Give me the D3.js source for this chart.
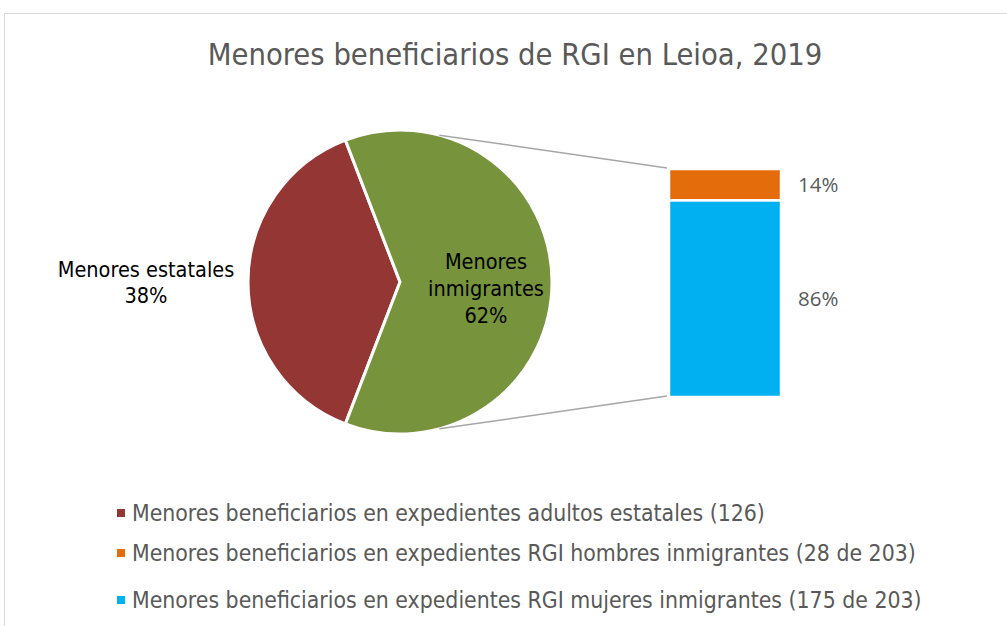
<!DOCTYPE html>
<html>
<head>
<meta charset="utf-8">
<script src="https://cdn.jsdelivr.net/npm/d3@7"></script>
<style>
  html, body { margin: 0; padding: 0; background: #fff; }
  svg { display: block; }
</style>
</head>
<body>
<div id="chart"></div>
<script>
// data
const pieCategories = ["Menores estatales", "Menores inmigrantes"];
const pieValues = [126, 203];
const barCategories = ["hombres", "mujeres"];
const barValues = [28, 175];
const legendLabels = [
  "Menores beneficiarios en expedientes adultos estatales (126)",
  "Menores beneficiarios en expedientes RGI hombres inmigrantes (28 de 203)",
  "Menores beneficiarios en expedientes RGI mujeres inmigrantes (175 de 203)"
];
const title = "Menores beneficiarios de RGI en Leioa, 2019";

const width = 1007, height = 626;
const pieColors = ["#943634", "#77933c"];
const barColors = ["#e46c0a", "#00b0f0"];
const legendColors = [pieColors[0], barColors[0], barColors[1]];
const textGray = "#595959";
const narrow = "'DejaVu Sans Condensed', sans-serif";

const svg = d3.select("#chart").append("svg")
    .attr("width", width)
    .attr("height", height);

// chart frame
svg.append("rect")
    .attr("x", 4.5).attr("y", 13.5)
    .attr("width", width + 10).attr("height", height + 10)
    .attr("fill", "#fff")
    .attr("stroke", "#d9d9d9");

svg.append("text")
    .attr("x", 515).attr("y", 65)
    .attr("text-anchor", "middle")
    .style("font", `30.6px ${narrow}`)
    .attr("fill", textGray)
    .text(title);

// pie
const cx = 400, cy = 282, r = 152;
const total = d3.sum(pieValues);
const a0 = Math.PI * 1.5 - (pieValues[0] / total) * Math.PI;
const pie = d3.pie().sort(null).startAngle(a0).endAngle(a0 + 2 * Math.PI);
const arcs = pie(pieValues);
const arc = d3.arc().innerRadius(0).outerRadius(r);

const gPie = svg.append("g").attr("transform", `translate(${cx},${cy})`);
gPie.selectAll("path")
  .data(arcs)
  .join("path")
    .attr("d", arc)
    .attr("fill", (d, i) => pieColors[i])
    .attr("stroke", "#fff")
    .attr("stroke-width", 3);

// bar (stacked)
const barX = 669, barW = 112;
const y = d3.scaleLinear()
    .domain([0, d3.sum(barValues)])
    .range([169, 397]);
const stack = [];
let acc = 0;
barValues.forEach((v, i) => { stack.push({ v, y0: acc, y1: acc + v, i }); acc += v; });

svg.append("g").selectAll("rect")
  .data(stack)
  .join("rect")
    .attr("x", barX)
    .attr("y", d => y(d.y0))
    .attr("width", barW)
    .attr("height", d => y(d.y1) - y(d.y0))
    .attr("fill", d => barColors[d.i])
    .attr("stroke", "#fff")
    .attr("stroke-width", 2.5);

const barTotal = d3.sum(barValues);
svg.append("g").selectAll("text")
  .data(stack)
  .join("text")
    .attr("x", 798)
    .attr("y", d => (y(d.y0) + y(d.y1)) / 2 + 7)
    .style("font", "20.5px 'Open Sans', sans-serif")
    .attr("fill", textGray)
    .text(d => Math.round(d.v / barTotal * 100) + "%");

// connector lines
const ta = 15 * Math.PI / 180;
svg.append("g")
    .attr("stroke", "#a6a6a6")
    .attr("stroke-width", 1.5)
  .selectAll("line")
  .data([[-1, y(0) - 1], [1, y(barTotal) - 1]])
  .join("line")
    .attr("x1", d => cx + r * Math.sin(ta))
    .attr("y1", d => cy + d[0] * r * Math.cos(ta))
    .attr("x2", barX - 2)
    .attr("y2", d => d[1]);

// pie labels
const pct = v => Math.round(v / total * 100) + "%";
const pieLabelFont = "21.5px 'DejaVu Sans Condensed', sans-serif";
svg.append("text")
    .attr("text-anchor", "middle")
    .style("font", pieLabelFont)
    .attr("fill", "#000")
  .selectAll("tspan")
  .data([pieCategories[0], pct(pieValues[0])])
  .join("tspan")
    .attr("x", 146)
    .attr("y", (d, i) => 277 + i * 26)
    .text(d => d);

svg.append("text")
    .attr("text-anchor", "middle")
    .style("font", pieLabelFont)
    .attr("fill", "#000")
  .selectAll("tspan")
  .data(["Menores", "inmigrantes", pct(pieValues[1])])
  .join("tspan")
    .attr("x", 486)
    .attr("y", (d, i) => 269 + i * 27)
    .text(d => d);

// legend
const leg = svg.append("g").selectAll("g")
  .data(legendLabels)
  .join("g")
    .attr("transform", (d, i) => `translate(117,${[513, 553, 600][i]})`);
leg.append("rect")
    .attr("x", 0).attr("y", -4)
    .attr("width", 8).attr("height", 8)
    .attr("fill", (d, i) => legendColors[i]);
leg.append("text")
    .attr("x", 15).attr("y", 8)
    .style("font", `22.8px ${narrow}`)
    .attr("fill", textGray)
    .text(d => d);
</script>
</body>
</html>
